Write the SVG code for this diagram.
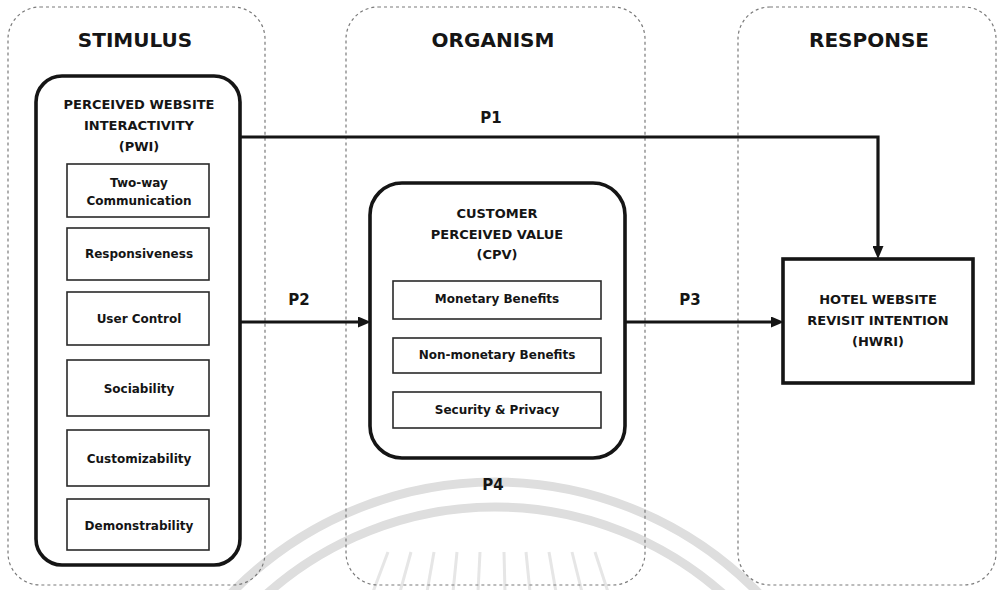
<svg xmlns="http://www.w3.org/2000/svg" width="999" height="590" viewBox="0 0 999 590">
  <defs>
    <marker id="arrow" markerUnits="userSpaceOnUse" markerWidth="13" markerHeight="11" refX="4" refY="5.5" orient="auto">
      <path d="M0,0 L13,5.5 L0,11 z" fill="#151515"/>
    </marker>
  </defs>
  <style>
    text { font-family: "DejaVu Sans", "Open Sans", sans-serif; font-weight: 700; fill: #151515; text-anchor: middle; }
    .zone { fill: none; stroke: #7a7a7a; stroke-width: 1.2; stroke-dasharray: 3 3; }
    .zone-title { font-size: 20px; }
    .construct { fill: none; stroke: #151515; stroke-width: 3.6; }
    .head { font-size: 13px; }
    .item { fill: #ffffff; stroke: #2a2a2a; stroke-width: 1.6; }
    .item-text { font-size: 12px; }
    .link { fill: none; stroke: #151515; stroke-width: 3.2; }
    .plabel { font-size: 15px; }
    .seal { fill: none; stroke: #dedede; stroke-width: 9; }
    .ray { stroke: #e6e6e6; stroke-width: 3; }
  </style>

  <rect width="999" height="590" fill="#ffffff"/>

  <!-- faint circular seal near the bottom -->
  <g id="seal">
    <circle class="seal" cx="495" cy="850" r="368"/>
    <circle class="seal" cx="495" cy="850" r="343"/>
    <g class="ray">
      <line x1="373" y1="592" x2="388" y2="552"/>
      <line x1="400" y1="592" x2="411" y2="552"/>
      <line x1="427" y1="592" x2="434" y2="552"/>
      <line x1="453" y1="592" x2="457" y2="552"/>
      <line x1="478" y1="592" x2="480" y2="552"/>
      <line x1="505" y1="592" x2="504" y2="552"/>
      <line x1="530" y1="592" x2="526" y2="552"/>
      <line x1="556" y1="592" x2="549" y2="552"/>
      <line x1="582" y1="592" x2="572" y2="552"/>
      <line x1="608" y1="592" x2="595" y2="552"/>
    </g>
  </g>

  <!-- S-O-R zones -->
  <g id="zone-stimulus">
    <rect class="zone" x="8" y="7" width="257" height="578" rx="32"/>
    <text class="zone-title" x="135" y="47">STIMULUS</text>
  </g>
  <g id="zone-organism">
    <rect class="zone" x="346" y="7" width="299" height="578" rx="32"/>
    <text class="zone-title" x="493" y="47">ORGANISM</text>
  </g>
  <g id="zone-response">
    <rect class="zone" x="738" y="7" width="258" height="578" rx="32"/>
    <text class="zone-title" x="869" y="47">RESPONSE</text>
  </g>

  <!-- Perceived Website Interactivity -->
  <g id="pwi">
    <rect class="construct" x="36" y="76" width="204" height="489" rx="26"/>
    <text class="head" x="139" y="109">PERCEIVED WEBSITE</text>
    <text class="head" x="139" y="130">INTERACTIVITY</text>
    <text class="head" x="139" y="151">(PWI)</text>
    <rect class="item" x="67" y="164" width="142" height="53"/>
    <text class="item-text" x="139" y="187">Two-way</text>
    <text class="item-text" x="139" y="205">Communication</text>
    <rect class="item" x="67" y="228" width="142" height="52"/>
    <text class="item-text" x="139" y="258">Responsiveness</text>
    <rect class="item" x="67" y="292" width="142" height="53"/>
    <text class="item-text" x="139" y="323">User Control</text>
    <rect class="item" x="67" y="360" width="142" height="56"/>
    <text class="item-text" x="139" y="393">Sociability</text>
    <rect class="item" x="67" y="430" width="142" height="56"/>
    <text class="item-text" x="139" y="463">Customizability</text>
    <rect class="item" x="67" y="499" width="142" height="51"/>
    <text class="item-text" x="139" y="530">Demonstrability</text>
  </g>

  <!-- Customer Perceived Value -->
  <g id="cpv">
    <rect class="construct" x="370" y="183" width="255" height="275" rx="32"/>
    <text class="head" x="497" y="218">CUSTOMER</text>
    <text class="head" x="497" y="239">PERCEIVED VALUE</text>
    <text class="head" x="497" y="259">(CPV)</text>
    <rect class="item" x="393" y="281" width="208" height="38"/>
    <text class="item-text" x="497" y="303">Monetary Benefits</text>
    <rect class="item" x="393" y="338" width="208" height="35"/>
    <text class="item-text" x="497" y="359">Non-monetary Benefits</text>
    <rect class="item" x="393" y="392" width="208" height="36"/>
    <text class="item-text" x="497" y="414">Security &amp; Privacy</text>
  </g>

  <!-- Hotel Website Revisit Intention -->
  <g id="hwri">
    <rect class="construct" x="783" y="259" width="190" height="124" stroke-width="4"/>
    <text class="head" x="878" y="304">HOTEL WEBSITE</text>
    <text class="head" x="878" y="325">REVISIT INTENTION</text>
    <text class="head" x="878" y="346">(HWRI)</text>
  </g>

  <!-- paths P1-P4 -->
  <g id="connectors">
    <path class="link" d="M240,137 H878 V250" marker-end="url(#arrow)"/>
    <path class="link" d="M240,322 H362" marker-end="url(#arrow)"/>
    <path class="link" d="M625,322 H775" marker-end="url(#arrow)"/>
    <text class="plabel" x="491" y="123">P1</text>
    <text class="plabel" x="299" y="305">P2</text>
    <text class="plabel" x="690" y="305">P3</text>
    <text class="plabel" x="493" y="490">P4</text>
  </g>
</svg>
